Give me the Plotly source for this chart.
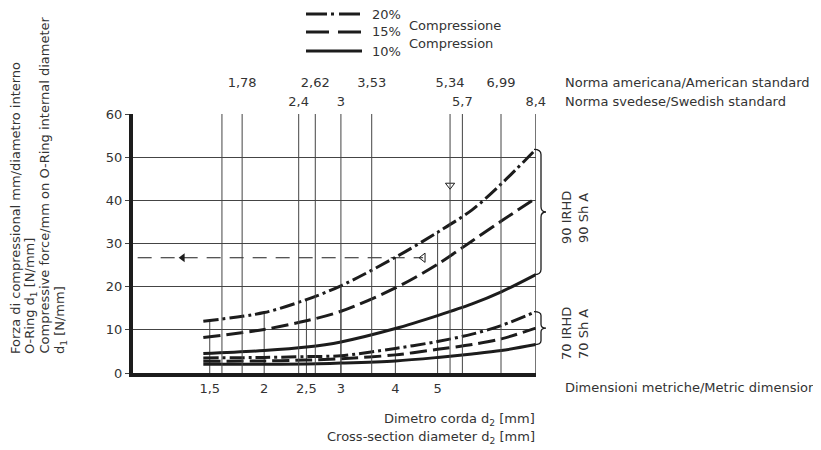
import numpy as np
import plotly.graph_objects as go

# ---------------- data ----------------
d2 = [1.45, 2.0, 2.5, 3.0, 4.0, 5.0, 6.0, 7.0, 8.4]
irhd90_20 = [12.0, 14.0, 17.0, 20.2, 26.8, 32.6, 37.8, 43.8, 51.8]
irhd90_15 = [8.2, 10.1, 12.1, 14.3, 19.7, 25.2, 30.6, 35.2, 40.5]
irhd90_10 = [4.5, 5.2, 6.0, 7.2, 10.3, 13.3, 16.0, 18.8, 22.8]
irhd70_20 = [3.5, 3.6, 3.8, 4.0, 5.7, 7.3, 9.0, 11.0, 14.2]
irhd70_15 = [2.7, 2.8, 3.0, 3.3, 4.2, 5.5, 6.6, 7.9, 10.4]
irhd70_10 = [2.0, 2.0, 2.1, 2.3, 2.8, 3.6, 4.4, 5.2, 6.6]

metric_ticks = [1.5, 2, 2.5, 3, 4, 5]
metric_labels = ["1,5", "2", "2,5", "3", "4", "5"]
american_ticks = [1.78, 2.62, 3.53, 5.34, 6.99]
american_labels = ["1,78", "2,62", "3,53", "5,34", "6,99"]
swedish_ticks = [1.6, 2.4, 3, 5.7, 8.4]
swedish_labels = ["", "2,4", "3", "5,7", "8,4"]
y_ticks = [0, 10, 20, 30, 40, 50, 60]

reading_force = 26.7
reading_d2 = [1.025, 4.63]
arrow_left_d2 = 1.30
marker_d2 = 5.34
marker_force = 43.5

# ---------------- styles ----------------
FONT = "DejaVu Sans"
TXT = "#333333"
INK = "#1c1c1c"
GRID = "#444444"
DASHDOT = "15px,4px,3px,4px"
DASH = "17px,6px"
W = 3

fig = go.Figure()


def vlines(vals, tops):
    xs, ys = [], []
    for v, t in zip(vals, tops):
        xs += [v, v, None]
        ys += [0, t, None]
    return xs, ys


# vertical reference lines (full height) on the Swedish / American axes
xs, ys = vlines(swedish_ticks, [60] * len(swedish_ticks))
fig.add_trace(go.Scatter(x=xs, y=ys, mode="lines", xaxis="x2", yaxis="y",
                         line=dict(color=GRID, width=1), hoverinfo="skip", showlegend=False))
xs, ys = vlines(american_ticks, [60] * len(american_ticks))
fig.add_trace(go.Scatter(x=xs, y=ys, mode="lines", xaxis="x3", yaxis="y",
                         line=dict(color=GRID, width=1), hoverinfo="skip", showlegend=False))
# metric lines up to the top curve
tops = [float(np.interp(np.log10(v), np.log10(d2), irhd90_20)) for v in metric_ticks]
xs, ys = vlines(metric_ticks, tops)
fig.add_trace(go.Scatter(x=xs, y=ys, mode="lines",
                         line=dict(color=GRID, width=1), hoverinfo="skip", showlegend=False))

# reading example
fig.add_trace(go.Scatter(x=reading_d2, y=[reading_force] * 2, mode="lines",
                         line=dict(color=INK, width=1, dash="14px,9px"),
                         hoverinfo="skip", showlegend=False))
fig.add_trace(go.Scatter(x=[arrow_left_d2], y=[reading_force], mode="markers",
                         marker=dict(symbol="triangle-left", size=8, color=INK),
                         hoverinfo="skip", showlegend=False))
fig.add_trace(go.Scatter(x=[reading_d2[1]], y=[reading_force], mode="markers",
                         marker=dict(symbol="triangle-left-open", size=8, color=INK,
                                     line=dict(width=1, color=INK)),
                         hoverinfo="skip", showlegend=False))
fig.add_trace(go.Scatter(x=[marker_d2], y=[marker_force], mode="markers",
                         marker=dict(symbol="triangle-down-open", size=8, color=INK,
                                     line=dict(width=1, color=INK)),
                         hoverinfo="skip", showlegend=False))

# curves
for ser, dash in [(irhd90_20, DASHDOT), (irhd90_15, DASH), (irhd90_10, "solid"),
                  (irhd70_20, DASHDOT), (irhd70_15, DASH), (irhd70_10, "solid")]:
    fig.add_trace(go.Scatter(x=d2, y=ser, mode="lines",
                             line=dict(color=INK, width=W, dash=dash, shape="spline", smoothing=0.9),
                             hoverinfo="skip", showlegend=False))

# ---------------- layout helpers ----------------
OFF = 8  # page offset of the figure inside the browser window
L, T, PW, PH = 133 - OFF, 114 - OFF, 403, 259
R = 821 - L - PW
B = 450 - T - PH


def px_x(px):
    return (px - OFF - L) / PW


def px_y(py):
    return (T + PH - (py - OFF)) / PH


annotations = []


def text(t, x, y, xa="left", ya="middle", size=13, angle=0):
    annotations.append(dict(text=t, x=px_x(x), y=px_y(y), xref="paper", yref="paper",
                            xanchor=xa, yanchor=ya, showarrow=False, textangle=angle,
                            font=dict(family=FONT, size=size, color=TXT)))


# legend
text("20%", 370, 14)
text("15%", 370, 32)
text("10%", 370, 51)
text("Compressione", 407, 25)
text("Compression", 407, 43)

# standards
text("Norma americana/American standard", 563, 82)
text("Norma svedese/Swedish standard", 563, 101)
text("Dimensioni metriche/Metric dimensions", 563, 387)

# x title
text("Dimetro corda d<sub>2</sub> [mm]", 537, 419, xa="right")
text("Cross-section diameter d<sub>2</sub> [mm]", 537, 437, xa="right")

# y title (rotated)
ylines = ["Forza di compressional mm/diametro interno",
          "O-Ring d<sub>1</sub> [N/mm]",
          "Compressive force/mm on O-Ring internal diameter",
          "d<sub>1</sub> [N/mm]"]
for t, x in zip(ylines, [15, 30, 44, 60]):
    text(t, x, 356, xa="center", ya="bottom", angle=-90)

# hardness labels
text("90 IRHD", 566, 218, xa="center", angle=-90)
text("90 Sh A", 583, 218, xa="center", angle=-90)
text("70 IRHD", 566, 334, xa="center", angle=-90)
text("70 Sh A", 583, 334, xa="center", angle=-90)

shapes = []
# legend line samples
for py, dash in [(14, "21px,4px,3px,5px"), (32, "23px,9px"), (51, "solid")]:
    shapes.append(dict(type="line", xref="paper", yref="paper",
                       x0=px_x(306), x1=px_x(362), y0=px_y(py), y1=px_y(py),
                       line=dict(color=INK, width=W, dash=dash)))


def brace(ytop, ybot, r):
    x0, xs_, xt = px_x(534), px_x(541), px_x(546)
    ym = (ytop + ybot) / 2
    return (f"M {x0},{ytop} Q {xs_},{ytop} {xs_},{ytop - r} L {xs_},{ym + r} "
            f"Q {xs_},{ym} {xt},{ym} Q {xs_},{ym} {xs_},{ym - r} L {xs_},{ybot + r} "
            f"Q {xs_},{ybot} {x0},{ybot}")


shapes.append(dict(type="path", xref="paper", yref="y",
                   path=brace(irhd90_20[-1], irhd90_10[-1], 1.2),
                   line=dict(color=INK, width=1.3)))
shapes.append(dict(type="path", xref="paper", yref="y",
                   path=brace(irhd70_20[-1], irhd70_10[-1], 0.9),
                   line=dict(color=INK, width=1.3)))

xr = [0, float(np.log10(8.4)) + 0.0005]
tickfont = dict(family=FONT, size=13, color=TXT)

fig.update_layout(
    width=821, height=450,
    margin=dict(l=L, r=R, t=T, b=B, autoexpand=False),
    paper_bgcolor="white", plot_bgcolor="white",
    showlegend=False,
    font=dict(family=FONT, size=13, color=TXT),
    xaxis=dict(type="log", range=xr, tickvals=metric_ticks, ticktext=metric_labels,
               ticks="", showgrid=False, zeroline=False, showline=True, linewidth=4,
               linecolor=INK, tickfont=tickfont, ticklabelstandoff=0),
    xaxis2=dict(type="log", range=xr, overlaying="x", side="top", anchor="y",
                tickvals=swedish_ticks, ticktext=swedish_labels, ticks="",
                showgrid=False, zeroline=False, showline=False, tickfont=tickfont,
                ticklabelstandoff=4),
    xaxis3=dict(type="log", range=xr, overlaying="x", side="top", anchor="y",
                tickvals=american_ticks, ticktext=american_labels, ticks="",
                showgrid=False, zeroline=False, showline=False, tickfont=tickfont,
                ticklabelstandoff=23),
    yaxis=dict(range=[0, 60], tickvals=y_ticks, showgrid=True, gridcolor=GRID, gridwidth=1,
               zeroline=False, showline=True, linewidth=4, linecolor=INK,
               ticks="outside", ticklen=4, tickcolor=GRID, tickfont=tickfont),
    annotations=annotations,
    shapes=shapes,
)

fig.write_html("out.html")
